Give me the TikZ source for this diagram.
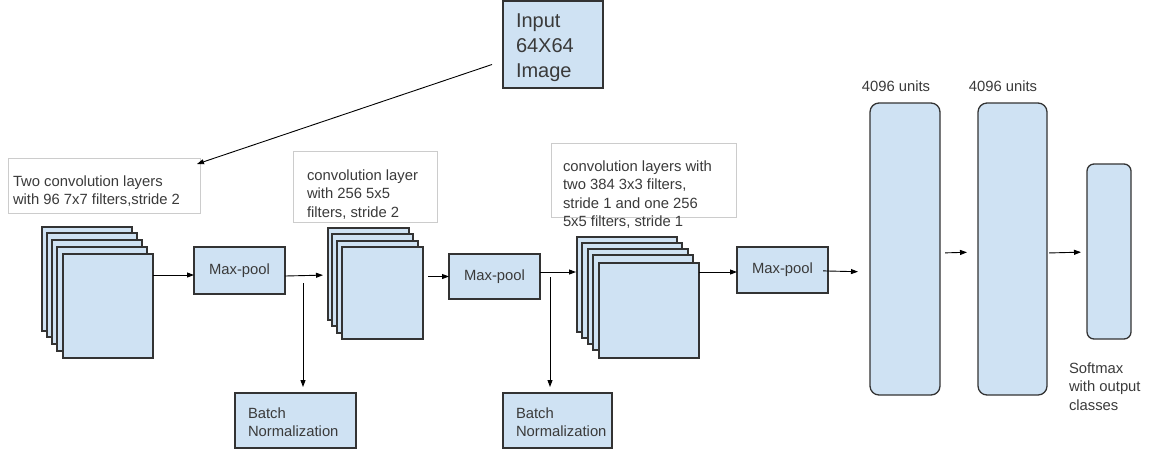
\documentclass[tikz,border=0pt]{standalone}
\usepackage{fontspec}
\setmainfont{Liberation Sans}
\usetikzlibrary{arrows.meta}
\definecolor{boxfill}{HTML}{CFE2F3}
\definecolor{boxline}{HTML}{333333}
\definecolor{noteline}{HTML}{CCCCCC}
\definecolor{ink}{HTML}{3A3A3A}
\tikzset{
  blk/.style={draw=boxline, line width=1.3pt, fill=boxfill, inner sep=0pt, outer sep=0pt},
  sheet/.style={blk, minimum width=#1},
  fcbox/.style={blk, rounded corners=9pt},
  note/.style={draw=noteline, line width=0.7pt, fill=white, inner sep=0pt, outer sep=0pt},
  txt/.style={text=ink, inner sep=0pt, outer sep=0pt, align=left, anchor=north west,
    font=\fontsize{14.8}{18.5}\selectfont},
  lbl/.style={text=ink, font=\fontsize{14.8}{18.5}\selectfont},
  conn/.style={draw=black, line width=0.9pt, -{Triangle[length=7pt,width=5pt]}},
}
\begin{document}
\begin{tikzpicture}[x=1pt,y=-1pt]
\useasboundingbox (0,0) rectangle (1153,451);

% input image
\node[blk, minimum width=100pt, minimum height=87pt] (in) at (553,44.5) {};
\node[txt, font=\fontsize{20}{25}\selectfont] (intxt) at (516,14) {Input\\64X64\\Image};

% description boxes
\node[note, minimum width=192pt, minimum height=55pt] (t1) at (104,185.5) {};
\node[txt] (t1txt) at (13,175.5) {Two convolution layers\\with 96 7x7 filters,stride 2};
\node[note, minimum width=144pt, minimum height=71pt] (t2) at (365,186.5) {};
\node[txt] (t2txt) at (307,169.5) {convolution layer\\with 256 5x5\\filters, stride 2};
\node[note, minimum width=185pt, minimum height=74pt] (t3) at (643.5,180) {};
\node[txt] (t3txt) at (563,160.5) {convolution layers with\\two 384 3x3 filters,\\stride 1 and one 256\\5x5 filters, stride 1};

% first convolution stack
\foreach \i/\x/\y in {1/42/227, 2/47/233, 3/52/240, 4/57/247, 5/63/254}
  \node[sheet=90pt, minimum height=104pt] (s1-\i) at (\x+45,\y+52) {};
% second convolution stack
\foreach \i/\x/\y in {1/328/228, 2/332/234, 3/337/241, 4/342/247}
  \node[sheet=81pt, minimum height=92pt] (s2-\i) at (\x+40.5,\y+46) {};
% third convolution stack
\foreach \i/\x/\y in {1/577/237, 2/582/243, 3/588/249, 4/593/255, 5/599/263}
  \node[sheet=100pt, minimum height=95pt] (s3-\i) at (\x+50,\y+47.5) {};

% pooling layers
\node[blk, minimum width=91pt, minimum height=47pt, lbl] (mp1) at (239.5,270.5) {Max-pool};
\node[blk, minimum width=91pt, minimum height=45pt, lbl] (mp2) at (494.5,276.5) {Max-pool};
\node[blk, minimum width=91pt, minimum height=46pt, lbl] (mp3) at (782.5,270) {Max-pool};

% batch normalization
\node[blk, minimum width=121pt, minimum height=55pt] (bn1) at (295.5,420.5) {};
\node[txt] (bn1txt) at (248,407.5) {Batch\\Normalization};
\node[blk, minimum width=109pt, minimum height=55pt] (bn2) at (557.5,420.5) {};
\node[txt] (bn2txt) at (516,407.5) {Batch\\Normalization};

% fully connected layers and softmax
\node[fcbox, minimum width=70pt, minimum height=292pt] (fc1) at (905,249) {};
\node[fcbox, minimum width=69pt, minimum height=292pt] (fc2) at (1012.5,249) {};
\node[fcbox, minimum width=44pt, minimum height=175pt, rounded corners=7pt] (sm) at (1109,251.5) {};
\node[lbl, anchor=base, inner sep=0pt] (fc1lbl) at (896,91) {4096 units};
\node[lbl, anchor=base, inner sep=0pt] (fc2lbl) at (1003,91) {4096 units};
\node[txt] (smtxt) at (1069,362.5) {Softmax\\with output\\classes};

% connectors
\draw[conn] ([shift={(-11,20)}]in.west) -- ([shift={(-3,6)}]t1.north east);
\draw[conn] (s1-5.east |- 0,275) -- (mp1.west |- 0,275);
\draw[conn, shorten >=5pt] (mp1.east |- 0,276) -- (s2-1.west |- 0,275);
\draw[conn, shorten <=5pt] (s2-4.east |- mp2.west) -- (mp2.west);
\draw[conn, shorten >=1pt] (mp2.east |- 0,272) -- (s3-1.west |- 0,272);
\draw[conn] (s3-5.east |- 0,272) -- (mp3.west |- 0,272);
\draw[conn, shorten <=-5pt, shorten >=12pt] (mp3.east |- 0,271) -- (fc1.west |- 0,272);
\draw[conn, shorten <=5pt, shorten >=11pt] (fc1.east |- 0,253) -- (fc2.west |- 0,252);
\draw[conn, shorten <=2pt, shorten >=6pt] (fc2.east |- 0,253) -- (sm.west |- 0,252);

% batch normalization taps
\coordinate (b1) at (303,283);
\coordinate (b2) at (550,277);
\draw[conn, shorten >=6pt] (b1) -- (bn1.north -| b1);
\draw[conn, shorten >=6pt] (b2) -- (bn2.north -| b2);
\end{tikzpicture}
\end{document}
